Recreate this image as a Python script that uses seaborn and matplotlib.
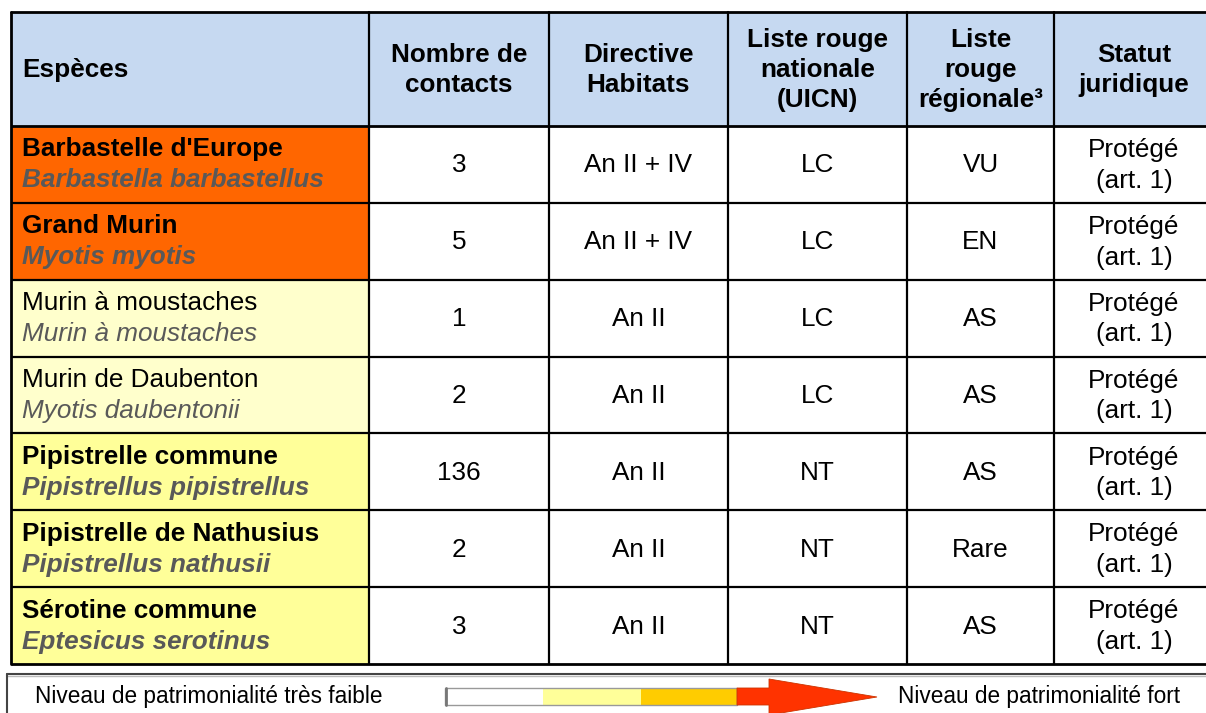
import matplotlib.pyplot as plt
import seaborn as sns
import numpy as np
from matplotlib.colors import ListedColormap
from matplotlib.patches import Polygon, Rectangle

# donnees du tableau
headers = ["Espèces", "Nombre de\ncontacts", "Directive\nHabitats",
           "Liste rouge\nnationale\n(UICN)", "Liste\nrouge\nrégionale³", "Statut\njuridique"]
noms = ["Barbastelle d'Europe", "Grand Murin", "Murin à moustaches", "Murin de Daubenton",
        "Pipistrelle commune", "Pipistrelle de Nathusius", "Sérotine commune"]
latin = ["Barbastella barbastellus", "Myotis myotis", "Murin à moustaches", "Myotis daubentonii",
         "Pipistrellus pipistrellus", "Pipistrellus nathusii", "Eptesicus serotinus"]
niveau = [3, 3, 1, 1, 2, 2, 2]
contacts = [3, 5, 1, 2, 136, 2, 3]
directive = ["An II + IV", "An II + IV", "An II", "An II", "An II", "An II", "An II"]
lr_nat = ["LC", "LC", "LC", "LC", "NT", "NT", "NT"]
lr_reg = ["VU", "EN", "AS", "AS", "AS", "Rare", "AS"]
statut = ["Protégé\n(art. 1)"] * 7

legende = ["Niveau de patrimonialité très faible", "Niveau de patrimonialité fort"]
legende_couleurs = ["white", "#FFFF99", "#FFCC00"]

sns.set_theme(style="white")
plt.rcParams['font.family'] = ['Liberation Sans', 'DejaVu Sans']
plt.rcParams['text.color'] = 'black'

W, H = 1206, 713
fig = plt.figure(figsize=(W / 100, H / 100), dpi=100)

# layout (pixels)
cols = [11, 369, 549, 728, 907, 1054, 1214]
top, head_bot, bot = 12, 126, 664
n = len(noms)
rh = (bot - head_bot) / n

# fond de la colonne especes
hax = fig.add_axes([cols[0] / W, 1 - bot / H, (cols[1] - cols[0]) / W, (bot - head_bot) / H])
cmap = ListedColormap(["#FFFFCC", "#FFFF99", "#FF6600"])
sns.heatmap(np.array(niveau).reshape(-1, 1), cmap=cmap, vmin=0.5, vmax=3.5, cbar=False,
            ax=hax, xticklabels=False, yticklabels=False)
hax.axis('off')

ax = fig.add_axes([0, 0, 1, 1])
ax.set_xlim(0, W)
ax.set_ylim(H, 0)
ax.axis('off')
ax.patch.set_alpha(0)

fs = 18.8
ls = 1.34
gris = "#595959"

# entete
ax.add_patch(Rectangle((cols[0], top), cols[-1] - cols[0], head_bot - top, color="#C6D9F1", zorder=0))
hy = (top + head_bot) / 2 + 1
for j, h in enumerate(headers):
    if j == 0:
        ax.text(cols[0] + 11, hy, h, fontsize=fs, fontweight='bold', ha='left', va='center')
    else:
        ax.text((cols[j] + cols[j + 1]) / 2, hy, h, fontsize=fs, fontweight='bold',
                ha='center', va='center', linespacing=ls)

# lignes
for i in range(n):
    yc = head_bot + (i + 0.5) * rh
    poids = 'bold' if niveau[i] > 1 else 'normal'
    ax.text(cols[0] + 11, yc - 15, noms[i], fontsize=fs, fontweight=poids, ha='left', va='center')
    ax.text(cols[0] + 11, yc + 16, latin[i], fontsize=fs, fontweight=poids, fontstyle='italic',
            color=gris, ha='left', va='center')
    vals = [str(contacts[i]), directive[i], lr_nat[i], lr_reg[i], statut[i]]
    for j, v in enumerate(vals):
        ax.text((cols[j + 1] + cols[j + 2]) / 2, yc + 1, v, fontsize=fs, ha='center', va='center',
                linespacing=ls)

# bordures
for k in range(n + 1):
    y = head_bot + k * rh
    ax.plot([cols[0], cols[-1]], [y, y], color='black', lw=1.6 if 0 < k < n else 2.0,
            solid_capstyle='butt')
ax.plot([cols[0], cols[-1]], [top, top], color='black', lw=2.0)
for x in cols[:-1]:
    ax.plot([x, x], [top, bot], color='black', lw=1.6 if x != cols[0] else 2.0)

# legende
ax.plot([7, W], [674, 674], color='#444444', lw=1.5)
ax.plot([7, W], [676, 676], color='#BBBBBB', lw=1.0)
ax.plot([7, 7], [674, H], color='#444444', lw=1.5)
ax.text(35, 696, legende[0], fontsize=16.3, ha='left', va='center')
ax.text(898, 697, legende[1], fontsize=16.3, ha='left', va='center')

seg = [445, 543, 641, 737]
for c, x0, x1 in zip(legende_couleurs, seg[:-1], seg[1:]):
    ax.add_patch(Rectangle((x0, 688), x1 - x0, 17, color=c, lw=0, zorder=2))
ax.add_patch(Rectangle((445, 688), 292, 17, fill=False, edgecolor='#999999', lw=1.0, zorder=3))
ax.plot([446, 446], [688, 705], color='#777777', lw=2, zorder=4)
fleche = [(737, 688), (769, 688), (769, 679), (877, 697), (769, 715), (769, 705), (737, 705)]
ax.add_patch(Polygon(fleche, closed=True, facecolor="#FF3300", edgecolor="#CC3300", lw=0.6, zorder=3))

fig.savefig("out.png", dpi=100)
